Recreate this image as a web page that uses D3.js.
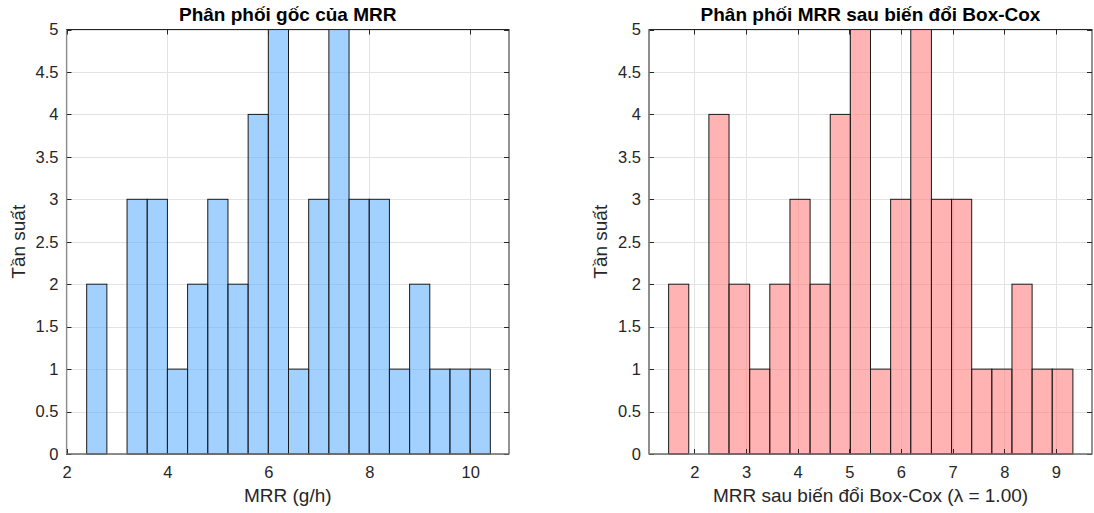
<!DOCTYPE html>
<html>
<head>
<meta charset="utf-8">
<script src="https://cdn.jsdelivr.net/npm/d3@7"></script>
<style>
  html, body { margin: 0; padding: 0; background: #fff; }
  svg text { font-family: "Liberation Sans", Arial, Helvetica, sans-serif; fill: #262626; }
</style>
</head>
<body>
<svg id="chart" width="1094" height="513"></svg>
<script>
// Histogram of the raw MRR values (bin edges and counts)
const rawEdges  = [2.4, 2.8, 3.2, 3.6, 4.0, 4.4, 4.8, 5.2, 5.6, 6.0, 6.4, 6.8, 7.2, 7.6, 8.0, 8.4, 8.8, 9.2, 9.6, 10.0, 10.4];
const rawCounts = [2, 0, 3, 3, 1, 2, 3, 2, 4, 5, 1, 3, 5, 3, 3, 1, 2, 1, 1, 1];

// Histogram after the Box-Cox transform (lambda = 1.00)
const bcEdges  = [1.50, 1.89, 2.28, 2.67, 3.07, 3.46, 3.85, 4.24, 4.63, 5.02, 5.41, 5.80, 6.19, 6.59, 6.98, 7.37, 7.76, 8.15, 8.54, 8.93, 9.33];
const bcCounts = [2, 0, 4, 2, 1, 2, 3, 2, 4, 5, 1, 3, 5, 3, 3, 1, 1, 2, 1, 1];

const rawXTicks = [2, 4, 6, 8, 10];
const bcXTicks  = [2, 3, 4, 5, 6, 7, 8, 9];
const yTicks    = [0, 0.5, 1, 1.5, 2, 2.5, 3, 3.5, 4, 4.5, 5];

const svg = d3.select("#chart");
const plotTop = 29.5, plotBottom = 454;

function histPanel(opts) {
  const g = svg.append("g");
  const x = d3.scaleLinear().domain(opts.xDomain).range([opts.left, opts.right]);
  const y = d3.scaleLinear().domain([0, 5]).range([plotBottom, plotTop]);
  const tickLen = 5;

  // grid
  g.append("g").selectAll("line").data(opts.xTicks).join("line")
    .attr("x1", d => Math.round(x(d)) + 0.5).attr("x2", d => Math.round(x(d)) + 0.5)
    .attr("y1", plotTop).attr("y2", plotBottom)
    .attr("stroke", "#e3e3e3").attr("stroke-width", 1);
  g.append("g").selectAll("line").data(yTicks).join("line")
    .attr("y1", d => Math.round(y(d)) + 0.5).attr("y2", d => Math.round(y(d)) + 0.5)
    .attr("x1", opts.left).attr("x2", opts.right)
    .attr("stroke", "#e3e3e3").attr("stroke-width", 1);

  // bars
  const bins = opts.counts.map((c, i) => ({ x0: opts.edges[i], x1: opts.edges[i + 1], c }))
    .filter(b => b.c > 0);
  g.append("g").selectAll("rect").data(bins).join("rect")
    .attr("x", b => x(b.x0)).attr("width", b => x(b.x1) - x(b.x0))
    .attr("y", b => y(b.c)).attr("height", b => y(0) - y(b.c))
    .attr("fill", opts.fill).attr("fill-opacity", 0.6)
    .attr("stroke", "#1a1a1a").attr("stroke-width", 1);

  // axes: bottom and left with labels
  const xAxis = d3.axisBottom(x).tickValues(opts.xTicks).tickSize(0).tickPadding(12)
    .tickFormat(d3.format("d"));
  const gx = g.append("g").attr("transform", `translate(0,${plotBottom})`).call(xAxis);
  gx.select(".domain").remove();
  gx.selectAll("text").attr("font-size", 16.5).attr("fill", "#262626")
    .style("font-family", '"Liberation Sans", Arial, sans-serif');

  const yAxis = d3.axisLeft(y).tickValues(yTicks).tickSize(0).tickPadding(8)
    .tickFormat(d => d3.format("")(d));
  const gy = g.append("g").attr("transform", `translate(${opts.left},0)`).call(yAxis);
  gy.select(".domain").remove();
  gy.selectAll("text").attr("font-size", 16.5).attr("fill", "#262626")
    .style("font-family", '"Liberation Sans", Arial, sans-serif');

  // inward tick marks on all four sides
  const tk = g.append("g").attr("stroke", "#262626").attr("stroke-width", 1);
  opts.xTicks.forEach(t => {
    const px = Math.round(x(t)) + 0.5;
    tk.append("line").attr("x1", px).attr("x2", px).attr("y1", plotBottom).attr("y2", plotBottom - tickLen);
    tk.append("line").attr("x1", px).attr("x2", px).attr("y1", plotTop).attr("y2", plotTop + tickLen);
  });
  yTicks.forEach(t => {
    const py = Math.round(y(t)) + 0.5;
    tk.append("line").attr("x1", opts.left).attr("x2", opts.left + tickLen).attr("y1", py).attr("y2", py);
    tk.append("line").attr("x1", opts.right).attr("x2", opts.right - tickLen).attr("y1", py).attr("y2", py);
  });

  // box
  g.append("rect").attr("x", opts.left).attr("y", plotTop)
    .attr("width", opts.right - opts.left).attr("height", plotBottom - plotTop)
    .attr("fill", "none").attr("stroke", "#262626").attr("stroke-width", 1);
  g.append("line").attr("x1", opts.left).attr("x2", opts.left).attr("y1", plotTop).attr("y2", plotBottom)
    .attr("stroke", "#8c8c8c").attr("stroke-width", 1.2);
  g.append("line").attr("x1", opts.left).attr("x2", opts.right).attr("y1", plotBottom).attr("y2", plotBottom)
    .attr("stroke", "#8c8c8c").attr("stroke-width", 1.2);

  // title
  g.append("text").attr("x", (opts.left + opts.right) / 2).attr("y", 21)
    .attr("text-anchor", "middle").attr("font-size", 19).attr("font-weight", "bold")
    .style("fill", "#000").text(opts.title);

  // x label
  g.append("text").attr("x", (opts.left + opts.right) / 2).attr("y", 502)
    .attr("text-anchor", "middle").attr("font-size", 19).text(opts.xLabel);

  // y label
  g.append("text")
    .attr("transform", `translate(${opts.yLabelX},${(plotTop + plotBottom) / 2}) rotate(-90)`)
    .attr("text-anchor", "middle").attr("font-size", 19).text("Tần suất");
}

histPanel({
  left: 66.5, right: 509, xDomain: [2, 10.77],
  edges: rawEdges, counts: rawCounts, xTicks: rawXTicks,
  fill: "rgb(102,178,255)",
  title: "Phân phối gốc của MRR",
  xLabel: "MRR (g/h)",
  yLabelX: 25
});

histPanel({
  left: 649, right: 1092, xDomain: [1.12, 9.70],
  edges: bcEdges, counts: bcCounts, xTicks: bcXTicks,
  fill: "rgb(255,128,128)",
  title: "Phân phối MRR sau biến đổi Box-Cox",
  xLabel: "MRR sau biến đổi Box-Cox (λ = 1.00)",
  yLabelX: 607
});
</script>
</body>
</html>
